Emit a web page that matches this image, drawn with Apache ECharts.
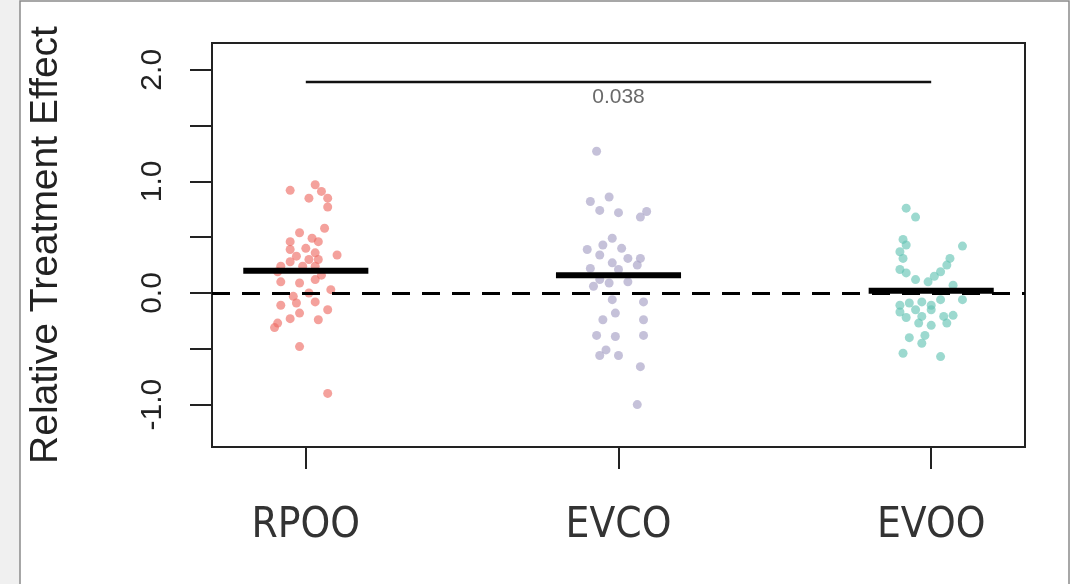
<!DOCTYPE html>
<html>
<head>
<meta charset="utf-8">
<script src="https://cdn.jsdelivr.net/npm/echarts@6/dist/echarts.min.js"></script>
<style>
  html, body { margin: 0; padding: 0; background: #fff; }
  #chart { width: 1074px; height: 584px; }
</style>
</head>
<body>
<div id="chart"></div>
<script>
// groups
const groups = ['RPOO', 'EVCO', 'EVOO'];
const groupColors = ['rgba(238,108,100,0.8)', 'rgba(165,158,195,0.8)', 'rgba(100,196,180,0.8)'];

// jitter offset (x) and value (y) for each point
const rpooX = [-0.05, 0.03, 0.05, 0.01, 0.07, 0.07, 0.06, -0.02, 0.02, -0.05, 0.04, -0.05, 0.0, 0.03, 0.10, -0.03, 0.01, 0.04, -0.05, -0.08, -0.01, 0.03, -0.09, 0.05, -0.08, -0.02, 0.03, 0.08, 0.01, -0.04, 0.03, -0.08, -0.03, 0.07, -0.02, -0.05, 0.04, -0.09, -0.10, -0.02, 0.07];
const rpooY = [0.92, 0.97, 0.91, 0.85, 0.85, 0.77, 0.58, 0.54, 0.49, 0.46, 0.46, 0.39, 0.40, 0.36, 0.34, 0.33, 0.30, 0.30, 0.28, 0.24, 0.24, 0.24, 0.19, 0.16, 0.10, 0.09, 0.12, 0.03, 0.0, -0.03, -0.08, -0.11, -0.09, -0.15, -0.18, -0.23, -0.24, -0.27, -0.31, -0.48, -0.90];

const evcoX = [-0.07, -0.03, -0.09, -0.06, 0.0, 0.09, 0.07, -0.02, -0.05, -0.10, 0.01, -0.06, 0.03, 0.07, -0.02, -0.09, 0.06, 0.0, -0.06, -0.03, 0.03, -0.08, -0.02, 0.08, -0.01, -0.05, 0.08, -0.07, -0.01, 0.08, -0.06, -0.04, 0.0, 0.07, 0.06];
const evcoY = [1.27, 0.86, 0.82, 0.74, 0.72, 0.73, 0.68, 0.49, 0.43, 0.39, 0.40, 0.34, 0.31, 0.31, 0.27, 0.22, 0.25, 0.21, 0.12, 0.09, 0.10, 0.06, -0.06, -0.08, -0.18, -0.24, -0.24, -0.38, -0.39, -0.38, -0.56, -0.51, -0.56, -0.66, -1.00];

const evooX = [-0.08, -0.05, -0.09, -0.08, 0.10, -0.10, -0.09, 0.06, 0.05, -0.10, -0.08, 0.03, 0.01, -0.05, -0.01, 0.07, -0.10, -0.07, -0.03, 0.03, 0.10, -0.10, -0.05, 0.0, -0.08, -0.03, 0.04, 0.07, -0.04, 0.0, 0.0, 0.05, -0.07, -0.02, -0.03, -0.09, 0.03];
const evooY = [0.76, 0.68, 0.48, 0.43, 0.42, 0.37, 0.31, 0.31, 0.25, 0.21, 0.18, 0.19, 0.15, 0.12, 0.10, 0.07, -0.11, -0.09, -0.08, -0.06, -0.06, -0.17, -0.15, -0.15, -0.22, -0.21, -0.21, -0.20, -0.27, -0.29, -0.11, -0.27, -0.40, -0.38, -0.45, -0.54, -0.57];

// group means and the comparison bracket
const means = [0.20, 0.16, 0.02];
const meanHalfWidth = 0.2;
const compareY = 1.89;
const pLabel = '0.038';

const yTicks = [-1, -0.5, 0, 0.5, 1, 1.5, 2];
const yLabels = [-1, 0, 1, 2];

const pointSets = [[rpooX, rpooY], [evcoX, evcoY], [evooX, evooY]];

const chart = echarts.init(document.getElementById('chart'));

const series = [];

// jittered points
pointSets.forEach(([xs, ys], i) => {
    series.push({
        name: groups[i],
        type: 'scatter',
        symbol: 'circle',
        symbolSize: 9,
        itemStyle: { color: groupColors[i] },
        data: ys.map((v, k) => [i + 1 + xs[k], v]),
        z: 2
    });
});

// mean bars
means.forEach((m, i) => {
    series.push({
        type: 'line',
        symbol: 'none',
        lineStyle: { color: '#000', width: 6 },
        data: [[i + 1 - meanHalfWidth, m], [i + 1 + meanHalfWidth, m]],
        z: 5
    });
});

// comparison line between RPOO and EVOO, dashed zero line
series.push({
    type: 'line',
    symbol: 'none',
    lineStyle: { color: '#111', width: 2.5 },
    data: [[1, compareY], [3, compareY]],
    markLine: {
        silent: true,
        symbol: 'none',
        label: { show: false },
        lineStyle: { color: '#000', width: 3, type: [18, 12] },
        data: [{ yAxis: 0 }]
    },
    z: 4
});

// p value label
series.push({
    type: 'scatter',
    symbolSize: 0,
    data: [[2, compareY]],
    label: {
        show: true,
        position: 'bottom',
        distance: 5,
        formatter: pLabel,
        color: '#444',
        fontSize: 21,
        fontFamily: 'Liberation Sans Narrow, Liberation Sans'
    }
});

const option = {
    backgroundColor: '#fff',
    animation: false,
    graphic: [
        { type: 'rect', shape: { x: 0, y: 0, width: 20, height: 584 }, style: { fill: '#f0f0f0' }, z: -1 },
        { type: 'rect', shape: { x: 20, y: 1, width: 1049, height: 600 }, style: { fill: 'none', stroke: '#8a8a8a', lineWidth: 1.5 } }
    ],
    grid: {
        left: 212,
        right: 49,
        top: 43,
        bottom: 137,
        show: true,
        borderColor: '#222',
        borderWidth: 2
    },
    xAxis: {
        type: 'value',
        min: 0.7,
        max: 3.3,
        splitLine: { show: false },
        axisLine: { show: false, onZero: false },
        axisTick: {
            show: true,
            customValues: [1, 2, 3],
            length: 22,
            lineStyle: { color: '#222', width: 2 }
        },
        axisLabel: {
            customValues: [1, 2, 3],
            formatter: v => groups[Math.round(v) - 1],
            margin: 58,
            color: '#333',
            fontSize: 42,
            fontFamily: 'DejaVu Sans Condensed, DejaVu Sans'
        }
    },
    yAxis: {
        type: 'value',
        min: -1.38,
        max: 2.24,
        name: 'Relative Treatment Effect',
        nameLocation: 'middle',
        nameRotate: 90,
        nameGap: 146,
        nameTextStyle: { fontSize: 39, color: '#222', fontFamily: 'Liberation Sans' },
        splitLine: { show: false },
        axisLine: { show: false, onZero: false },
        axisTick: {
            show: true,
            customValues: yTicks,
            length: 22,
            lineStyle: { color: '#222', width: 2 }
        },
        axisLabel: {
            customValues: yLabels,
            rotate: 90,
            formatter: v => v.toFixed(1),
            margin: 44,
            color: '#222',
            fontSize: 30,
            fontFamily: 'Liberation Sans'
        }
    },
    series: series
};

chart.setOption(option);
</script>
</body>
</html>
